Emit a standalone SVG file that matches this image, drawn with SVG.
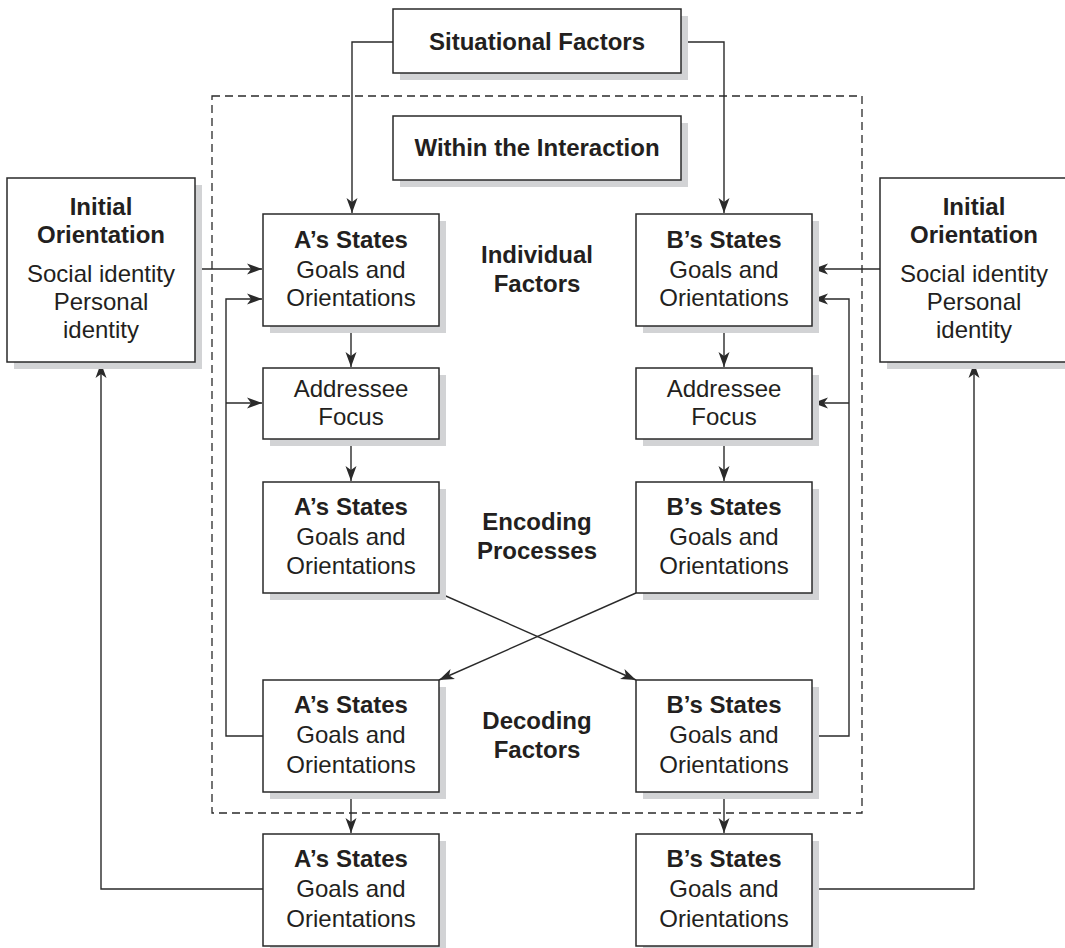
<svg xmlns="http://www.w3.org/2000/svg" width="1065" height="948" viewBox="0 0 1065 948">
<style>
.box{fill:#fff;stroke:#2a2a2a;stroke-width:1.5}
.sh{fill:#d2d3d5}
.t{font-family:"Liberation Sans",Arial,sans-serif;font-size:24px;fill:#231f20;text-anchor:middle}
.b{font-weight:bold}
.c{fill:none;stroke:#2a2a2a;stroke-width:1.4}
.d{fill:none;stroke:#2a2a2a;stroke-width:1.3;stroke-dasharray:8,5}
</style>
<defs>
<marker id="ah" markerUnits="userSpaceOnUse" markerWidth="16" markerHeight="14" viewBox="0 0 16 14" refX="15" refY="7" orient="auto">
<path d="M0,1.5 L15,7 L0,12.5 L4,7 Z" fill="#2a2a2a"/>
</marker>
</defs>
<rect class="d" x="212" y="96" width="650" height="717"/>
<g id="connectors">
<path class="c" d="M393,42 H352 V213" marker-end="url(#ah)"/>
<path class="c" d="M681,42 H724 V213" marker-end="url(#ah)"/>
<path class="c" d="M195,269 H262" marker-end="url(#ah)"/>
<path class="c" d="M880,269 H813" marker-end="url(#ah)"/>
<path class="c" d="M263,736 H226 V299 H262" marker-end="url(#ah)"/>
<path class="c" d="M226,403 H262" marker-end="url(#ah)"/>
<path class="c" d="M812,736 H849 V299 H813" marker-end="url(#ah)"/>
<path class="c" d="M849,403 H813" marker-end="url(#ah)"/>
<path class="c" d="M351,326 V367" marker-end="url(#ah)"/>
<path class="c" d="M351,439 V481" marker-end="url(#ah)"/>
<path class="c" d="M724,326 V367" marker-end="url(#ah)"/>
<path class="c" d="M724,439 V481" marker-end="url(#ah)"/>
<path class="c" d="M439,593 L636,680" marker-end="url(#ah)"/>
<path class="c" d="M636,593 L439,680" marker-end="url(#ah)"/>
<path class="c" d="M351,792 V833" marker-end="url(#ah)"/>
<path class="c" d="M724,792 V833" marker-end="url(#ah)"/>
<path class="c" d="M263,889 H101 V363" marker-end="url(#ah)"/>
<path class="c" d="M812,889 H974 V363" marker-end="url(#ah)"/>
</g>
<g id="situational">
<rect class="sh" x="400" y="16" width="288" height="64"/>
<rect class="box" x="393" y="9" width="288" height="64"/>
<text class="t b" x="537" y="50">Situational Factors</text>
</g>
<g id="within">
<rect class="sh" x="400" y="123" width="288" height="64"/>
<rect class="box" x="393" y="116" width="288" height="64"/>
<text class="t b" x="537" y="156">Within the Interaction</text>
</g>
<g id="initA">
<rect class="sh" x="14" y="185" width="188" height="184"/>
<rect class="box" x="7" y="178" width="188" height="184"/>
<text class="t b" x="101" y="215">Initial</text>
<text class="t b" x="101" y="243">Orientation</text>
<text class="t" x="101" y="282">Social identity</text>
<text class="t" x="101" y="310">Personal</text>
<text class="t" x="101" y="338">identity</text>
</g>
<g id="initB">
<rect class="sh" x="887" y="185" width="188" height="184"/>
<rect class="box" x="880" y="178" width="188" height="184"/>
<text class="t b" x="974" y="215">Initial</text>
<text class="t b" x="974" y="243">Orientation</text>
<text class="t" x="974" y="282">Social identity</text>
<text class="t" x="974" y="310">Personal</text>
<text class="t" x="974" y="338">identity</text>
</g>
<g id="A1">
<rect class="sh" x="270" y="221" width="176" height="112"/>
<rect class="box" x="263" y="214" width="176" height="112"/>
<text class="t b" x="351" y="248">A’s States</text>
<text class="t" x="351" y="278">Goals and</text>
<text class="t" x="351" y="306">Orientations</text>
</g>
<g id="B1">
<rect class="sh" x="643" y="221" width="176" height="112"/>
<rect class="box" x="636" y="214" width="176" height="112"/>
<text class="t b" x="724" y="248">B’s States</text>
<text class="t" x="724" y="278">Goals and</text>
<text class="t" x="724" y="306">Orientations</text>
</g>
<g id="AF-A">
<rect class="sh" x="270" y="375" width="176" height="71"/>
<rect class="box" x="263" y="368" width="176" height="71"/>
<text class="t" x="351" y="397">Addressee</text>
<text class="t" x="351" y="425">Focus</text>
</g>
<g id="AF-B">
<rect class="sh" x="643" y="375" width="176" height="71"/>
<rect class="box" x="636" y="368" width="176" height="71"/>
<text class="t" x="724" y="397">Addressee</text>
<text class="t" x="724" y="425">Focus</text>
</g>
<g id="A3">
<rect class="sh" x="270" y="489" width="176" height="111"/>
<rect class="box" x="263" y="482" width="176" height="111"/>
<text class="t b" x="351" y="515">A’s States</text>
<text class="t" x="351" y="545">Goals and</text>
<text class="t" x="351" y="574">Orientations</text>
</g>
<g id="B3">
<rect class="sh" x="643" y="489" width="176" height="111"/>
<rect class="box" x="636" y="482" width="176" height="111"/>
<text class="t b" x="724" y="515">B’s States</text>
<text class="t" x="724" y="545">Goals and</text>
<text class="t" x="724" y="574">Orientations</text>
</g>
<g id="A4">
<rect class="sh" x="270" y="687" width="176" height="112"/>
<rect class="box" x="263" y="680" width="176" height="112"/>
<text class="t b" x="351" y="713">A’s States</text>
<text class="t" x="351" y="743">Goals and</text>
<text class="t" x="351" y="773">Orientations</text>
</g>
<g id="B4">
<rect class="sh" x="643" y="687" width="176" height="112"/>
<rect class="box" x="636" y="680" width="176" height="112"/>
<text class="t b" x="724" y="713">B’s States</text>
<text class="t" x="724" y="743">Goals and</text>
<text class="t" x="724" y="773">Orientations</text>
</g>
<g id="A5">
<rect class="sh" x="270" y="841" width="176" height="112"/>
<rect class="box" x="263" y="834" width="176" height="112"/>
<text class="t b" x="351" y="867">A’s States</text>
<text class="t" x="351" y="897">Goals and</text>
<text class="t" x="351" y="927">Orientations</text>
</g>
<g id="B5">
<rect class="sh" x="643" y="841" width="176" height="112"/>
<rect class="box" x="636" y="834" width="176" height="112"/>
<text class="t b" x="724" y="867">B’s States</text>
<text class="t" x="724" y="897">Goals and</text>
<text class="t" x="724" y="927">Orientations</text>
</g>
<g id="labels">
<text class="t b" x="537" y="263">Individual</text>
<text class="t b" x="537" y="292">Factors</text>
<text class="t b" x="537" y="530">Encoding</text>
<text class="t b" x="537" y="559">Processes</text>
<text class="t b" x="537" y="729">Decoding</text>
<text class="t b" x="537" y="758">Factors</text>
</g>
</svg>
